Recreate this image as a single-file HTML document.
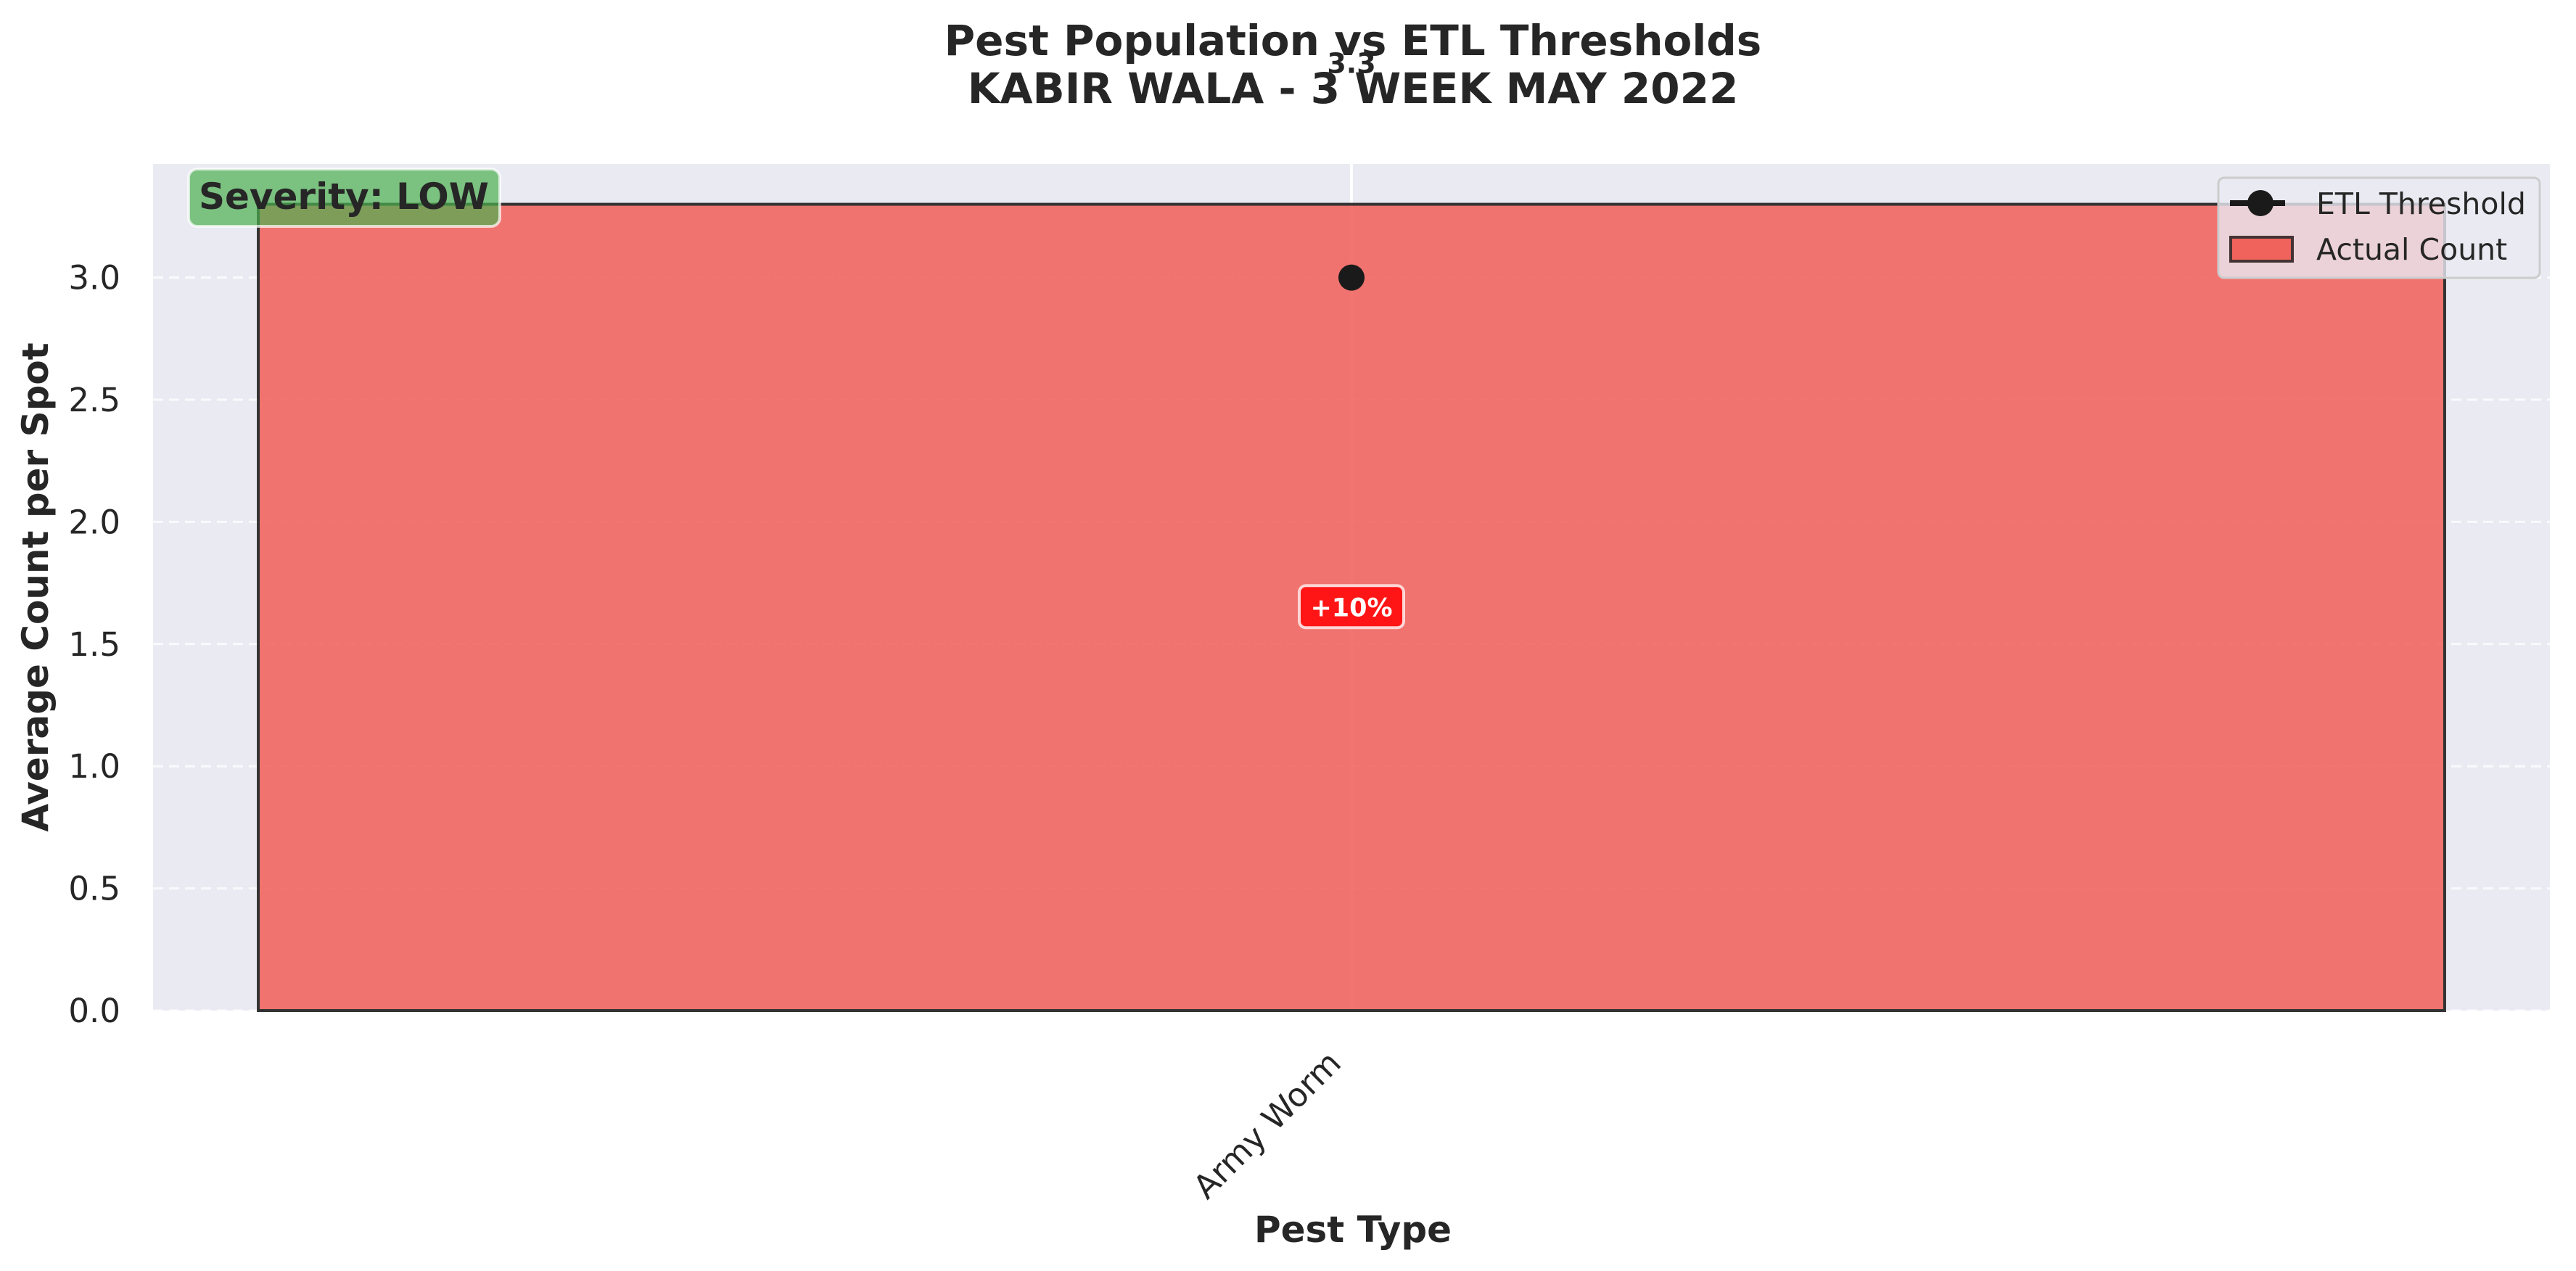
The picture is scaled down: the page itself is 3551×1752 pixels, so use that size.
<!DOCTYPE html>
<html><head><meta charset="utf-8"><style>
html,body{margin:0;padding:0;background:#fff;}
svg{display:block;font-family:"DejaVu Sans","Liberation Sans",sans-serif;}
</style></head><body>
<svg id="chart" width="3551" height="1752" viewBox="0 0 3551 1752" xmlns="http://www.w3.org/2000/svg">
<rect x="0" y="0" width="3551" height="1752" fill="#fff"/>
<text x="1865" y="76" text-anchor="middle" font-size="58" font-weight="bold" fill="#262626">Pest Population vs ETL Thresholds</text>
<text x="1865" y="142" text-anchor="middle" font-size="58" font-weight="bold" fill="#262626">KABIR WALA - 3 WEEK MAY 2022</text>
<g id="plot"></g>
</svg>
<script>
const categories = ["Army Worm"];
const actualCounts = [3.3];
const etlThresholds = [3.0];
const pctLabels = ["+10%"];
const yTicks = [0, 0.5, 1.0, 1.5, 2.0, 2.5, 3.0];
const yTickLabels = ["0.0","0.5","1.0","1.5","2.0","2.5","3.0"];

const NS = "http://www.w3.org/2000/svg";
const L = 211, R = 3515, T = 226, B = 1393;
const yMax = Math.max(...actualCounts, ...etlThresholds) * 1.05;
const xMin = -0.4385, xMax = categories.length - 1 + 0.4385;
const xs = v => L + (v - xMin) / (xMax - xMin) * (R - L);
const ys = v => B - v / yMax * (B - T);
const g = document.getElementById('plot');
function mk(tag, attrs, parent) {
  const el = document.createElementNS(NS, tag);
  for (const k in attrs) el.setAttribute(k, attrs[k]);
  (parent || g).appendChild(el);
  return el;
}
let el = mk('rect', {x: L, y: T, width: R - L, height: B - T, fill: '#eaeaf2'});


yTicks.forEach((t, i) => {
  const y = ys(t);
  const ln = mk('line', {x1: L, x2: R, y1: y, y2: y, stroke: '#fff', 'stroke-width': 3, 'stroke-dasharray': '14 8', opacity: 0.8});
  
  
  const tx = mk('text', {x: 166, y: y + 16, 'text-anchor': 'end', 'font-size': 45, fill: '#262626'});
  tx.textContent = yTickLabels[i];
  
  
});
categories.forEach((c, i) => {
  const vl = mk('line', {x1: xs(i), x2: xs(i), y1: T, y2: B, stroke: '#fff', 'stroke-width': 4});
  
  
});
categories.forEach((c, i) => {
  const x0 = xs(i - 0.4), x1 = xs(i + 0.4), y = ys(actualCounts[i]);
  const b = mk('rect', {x: x0, y: y, width: x1 - x0, height: B - y, fill: '#f0625c', 'fill-opacity': 0.88, stroke: '#333', 'stroke-width': 4});
  
  
});
categories.forEach((c, i) => {
  const vt = mk('text', {x: xs(i), y: ys(actualCounts[i]) - 181, 'text-anchor': 'middle', 'font-size': 38, 'font-weight': 'bold', fill: '#262626'});
  vt.textContent = actualCounts[i].toFixed(1);
  
  
  const m = mk('circle', {cx: xs(i), cy: ys(etlThresholds[i]), r: 18, fill: '#1a1a1a'});
  
  
  const my = ys(actualCounts[i] / 2);
  const pb = mk('rect', {x: xs(i) - 72, y: my - 30, width: 144, height: 58, rx: 9, fill: '#ff1010', 'fill-opacity': 0.95, stroke: '#ffd6d6', 'stroke-width': 4});
  
  
  const pt = mk('text', {x: xs(i), y: my + 12, 'text-anchor': 'middle', 'font-size': 35, 'font-weight': 'bold', fill: '#fff'});
  pt.textContent = pctLabels[i];
  
  
  const xl = mk('text', {x: 0, y: 0, 'text-anchor': 'end', 'font-size': 45, fill: '#262626', transform: `translate(${xs(i) - 12},${B + 75}) rotate(-45)`});
  xl.textContent = c;
  
  
});
el = mk('rect', {x: 260, y: 233, width: 429, height: 79, rx: 12, fill: '#4caf50', 'fill-opacity': 0.7, stroke: '#fff', 'stroke-width': 4, 'stroke-opacity': 0.7});


el = mk('text', {x: 274, y: 288, 'font-size': 50, 'font-weight': 'bold', fill: '#262626'});
el.textContent = 'Severity: LOW';


el = mk('rect', {x: 3058, y: 245, width: 443, height: 138, rx: 8, fill: '#eaeaf2', 'fill-opacity': 0.8, stroke: '#ccc', 'stroke-width': 3});


el = mk('line', {x1: 3074, x2: 3150, y1: 280, y2: 280, stroke: '#1a1a1a', 'stroke-width': 8});


el = mk('circle', {cx: 3116, cy: 280, r: 18, fill: '#1a1a1a'});


el = mk('text', {x: 3193, y: 295, 'font-size': 41, fill: '#262626'});
el.textContent = 'ETL Threshold';


el = mk('rect', {x: 3075, y: 327, width: 85, height: 33, fill: '#f0625c', stroke: '#443333', 'stroke-width': 4});


el = mk('text', {x: 3193, y: 358, 'font-size': 41, fill: '#262626'});
el.textContent = 'Actual Count';


el = mk('text', {x: 1865, y: 1712, 'text-anchor': 'middle', 'font-size': 50, 'font-weight': 'bold', fill: '#262626'});
el.textContent = 'Pest Type';


el = mk('text', {x: 0, y: 0, 'text-anchor': 'middle', 'font-size': 50, 'font-weight': 'bold', fill: '#262626', transform: `translate(66,${(T + B) / 2}) rotate(-90)`});
el.textContent = 'Average Count per Spot';


</script>
</body></html>
